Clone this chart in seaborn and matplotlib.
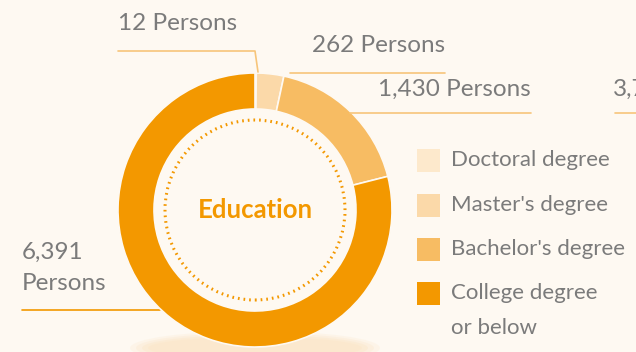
import matplotlib
matplotlib.use("Agg")
import matplotlib.pyplot as plt
import seaborn as sns
from matplotlib.patches import Circle, Ellipse

# Education breakdown (persons)
categories = ["Doctoral degree", "Master's degree", "Bachelor's degree", "College degree\nor below"]
persons = [12, 262, 1430, 6391]
value_labels = ["12 Persons", "262 Persons", "1,430 Persons", "6,391\nPersons"]
colors = ["#FDE9CC", "#FBD9A9", "#F7BC63", "#F39800"]

BG = "#FEF9F2"
TEXT = "#7b7b7b"
LINE = "#F7C57A"

sns.set_theme(style="white")
plt.rcParams["font.family"] = ["Lato", "DejaVu Sans"]

W, H = 636, 352
fig = plt.figure(figsize=(W / 100, H / 100), dpi=100, facecolor=BG)
ax = fig.add_axes([0, 0, 1, 1])
ax.set_facecolor(BG)


def Y(y):
    # pixel row (from top) to data y
    return H - y


cx, cy = 255, 210
r_out, r_in = 137, 101

# soft base under the ring
for i, a in enumerate([0.25, 0.35, 0.5, 0.7]):
    ax.add_patch(Ellipse((cx, Y(348)), 250 - i * 12, 34 - i * 4,
                         facecolor="#FBE8CC", edgecolor="none", alpha=a, zorder=0))

ax.pie(persons, colors=colors, center=(cx, Y(cy)), radius=r_out,
       startangle=90, counterclock=False, frame=True,
       wedgeprops=dict(width=r_out - r_in, edgecolor=BG, linewidth=1.2))

# inner dotted ring and title
ax.add_patch(Circle((cx, Y(cy)), 90, fill=False, edgecolor="#F39800",
                    linewidth=2.2, linestyle=(0, (0.55, 1.3)), zorder=3))
ax.text(cx, Y(cy), "Education", ha="center", va="center", fontsize=18.5,
        fontweight="bold", color="#F39800", zorder=4)

# value labels with leader lines
fs = 17.5
ax.text(118, Y(24), value_labels[0], ha="left", va="center", fontsize=fs, color=TEXT)
ax.plot([118, 255, 258], [Y(51), Y(51), Y(72)], color=LINE, lw=1.2)

ax.text(312, Y(45), value_labels[1], ha="left", va="center", fontsize=fs, color=TEXT)
ax.plot([290, 445], [Y(73), Y(73)], color=LINE, lw=1.2)

ax.text(378, Y(89), value_labels[2], ha="left", va="center", fontsize=fs, color=TEXT)
ax.plot([350, 531], [Y(113), Y(113)], color=LINE, lw=1.2)

ax.text(613, Y(89), "3,7", ha="left", va="center", fontsize=fs, color=TEXT)
ax.plot([615, 640], [Y(113), Y(113)], color=LINE, lw=1.2)

ax.text(22, Y(268), value_labels[3], ha="left", va="center", fontsize=fs,
        color=TEXT, linespacing=1.6)
ax.plot([22, 160], [Y(310), Y(310)], color="#F39800", lw=1.2, zorder=0.5)

# legend
lfs = 16
rows = [160, 205, 249, 293]
for cat, col, ry in zip(categories, colors, rows):
    ax.add_patch(plt.Rectangle((417, Y(ry + 11.5)), 23, 23, facecolor=col,
                               edgecolor="none"))
    ax.text(451, Y(ry - 10) if "\n" in cat else Y(ry), cat, ha="left",
            va="top" if "\n" in cat else "center",
            fontsize=lfs, color=TEXT, linespacing=1.95)

ax.set_xlim(0, W)
ax.set_ylim(0, H)
ax.set_aspect("equal")
ax.axis("off")

fig.savefig("out.png", dpi=100, facecolor=BG)
